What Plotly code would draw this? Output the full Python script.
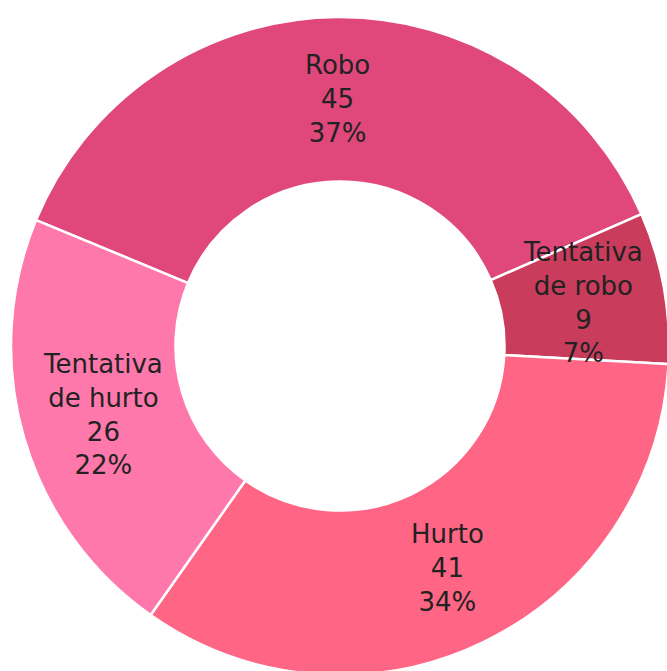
import math
import plotly.graph_objects as go

labels = ["Robo", "Tentativa de robo", "Hurto", "Tentativa de hurto"]
display_labels = ["Robo", "Tentativa<br>de robo", "Hurto", "Tentativa<br>de hurto"]
values = [45, 9, 41, 26]
pct_labels = ["37%", "7%", "34%", "22%"]
colors = ["#E0487C", "#C93C5B", "#FF6584", "#FF78AB"]

HOLE = 0.5
START_DEG = 157.5  # angle (ccw from east) where first slice begins
W, H = 669, 680
ML, MR, MT, MB = 11, 0, 17, 5

fig = go.Figure(go.Pie(
    labels=labels,
    values=values,
    hole=HOLE,
    sort=False,
    direction="clockwise",
    rotation=90 - START_DEG,
    marker=dict(colors=colors, line=dict(color="#ffffff", width=2.5)),
    textinfo="none",
    hoverinfo="skip",
    showlegend=False,
))

# labels placed at the middle of each ring segment (computed from the data)
total = sum(values)
cum = 0
r_mid = 0.5 * (1 + HOLE) / 2  # in domain fraction units
for lab, v, pct in zip(display_labels, values, pct_labels):
    frac_mid = (cum + v / 2) / total
    theta = math.radians(START_DEG - 360 * frac_mid)
    fig.add_annotation(
        x=0.5 + r_mid * math.cos(theta),
        y=0.5 + r_mid * math.sin(theta),
        xref="paper", yref="paper",
        text=f"{lab}<br>{v}<br>{pct}",
        showarrow=False,
        xanchor="center", yanchor="middle",
        font=dict(family="DejaVu Sans, sans-serif", size=26, color="#222222"),
    )
    cum += v

fig.update_layout(
    width=W, height=H,
    margin=dict(l=ML, r=MR, t=MT, b=MB),
    paper_bgcolor="white",
)

fig.write_html(
    "out.html",
    config={"displayModeBar": False},
    post_script="document.body.style.margin='0';document.body.style.overflow='hidden';",
)
